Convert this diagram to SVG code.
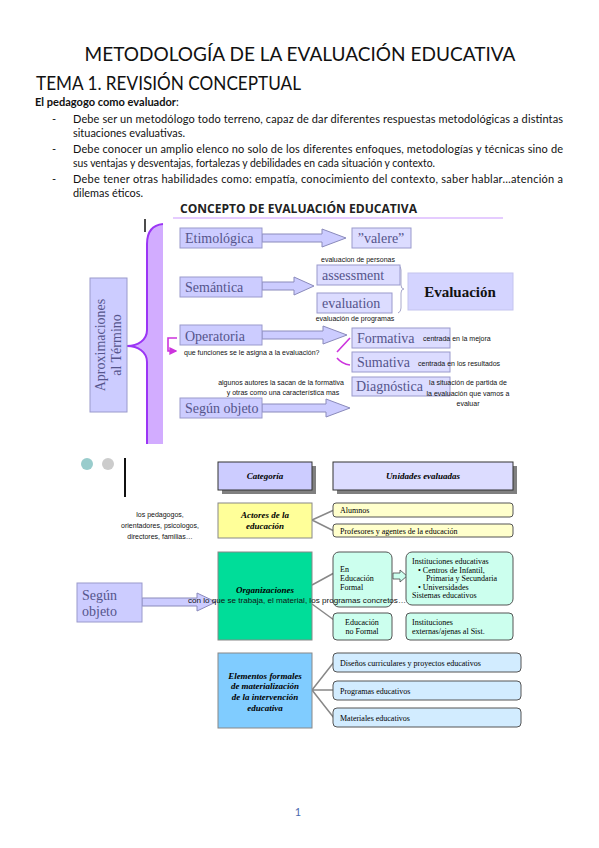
<svg xmlns="http://www.w3.org/2000/svg" width="599" height="848" viewBox="0 0 599 848">
<style>
.body{font-family:Lato,"Liberation Sans",sans-serif;font-size:11px;fill:#111}
.lv{fill:#ccccff;stroke:#9a9acc;stroke-width:1}
.lvl{fill:#dcdcff;stroke:#9a9acc;stroke-width:1}
.arr{fill:#ccccff;stroke:#8a8abb;stroke-width:1}
.lbl{font-family:"Liberation Serif",serif;font-size:14px;fill:#55558c}
.ann{font-family:"Liberation Sans",Arial,sans-serif;font-size:7px;fill:#111}
.bi{font-family:"Liberation Serif",serif;font-weight:bold;font-style:italic;font-size:9px;fill:#000}
.tn{font-family:"Liberation Serif",serif;font-size:8px;fill:#000}
.cn{fill:none;stroke:#888;stroke-width:1.5}
.mg{fill:none;stroke:#cc33dd;stroke-width:1.6}
.rb{stroke:#555;stroke-width:1}
</style>
<defs>
<marker id="mh" viewBox="0 0 6 6" refX="5" refY="3" markerWidth="5" markerHeight="5" orient="auto"><path d="M0,0 L6,3 L0,6 z" fill="#cc33dd"/></marker>
</defs>
<rect width="599" height="848" fill="#fff"/>

<!-- Header text -->
<g id="header">
<text x="300" y="61" text-anchor="middle" font-family="Lato,'Liberation Sans',sans-serif" font-size="20" fill="#111" textLength="431" lengthAdjust="spacingAndGlyphs">METODOLOGÍA DE LA EVALUACIÓN EDUCATIVA</text>
<text x="36" y="90" font-family="Lato,'Liberation Sans',sans-serif" font-size="20" fill="#111" textLength="265" lengthAdjust="spacingAndGlyphs">TEMA 1. REVISIÓN CONCEPTUAL</text>
<text x="35" y="106" class="body"><tspan font-weight="bold" textLength="141" lengthAdjust="spacingAndGlyphs">El pedagogo como evaluador</tspan>:</text>
<text x="52" y="123" class="body">-</text>
<text x="73" y="123" class="body" textLength="490" lengthAdjust="spacing">Debe ser un metodólogo todo terreno, capaz de dar diferentes respuestas metodológicas a distintas</text>
<text x="73" y="137" class="body" textLength="112" lengthAdjust="spacingAndGlyphs">situaciones evaluativas.</text>
<text x="52" y="153" class="body">-</text>
<text x="73" y="153" class="body" textLength="490" lengthAdjust="spacing">Debe conocer un amplio elenco no solo de los diferentes enfoques, metodologías y técnicas sino de</text>
<text x="73" y="167" class="body" textLength="362" lengthAdjust="spacingAndGlyphs">sus ventajas y desventajas, fortalezas y debilidades en cada situación y contexto.</text>
<text x="52" y="183" class="body">-</text>
<text x="73" y="183" class="body" textLength="490" lengthAdjust="spacing">Debe tener otras habilidades como: empatía, conocimiento del contexto, saber hablar…atención a</text>
<text x="73" y="197" class="body" textLength="70" lengthAdjust="spacingAndGlyphs">dilemas éticos.</text>
</g>

<!-- Concepto diagram -->
<g id="concepto-title">
<text x="180" y="213" font-family="'Open Sans','Liberation Sans',sans-serif" font-weight="bold" font-size="11.5" fill="#222" textLength="237" lengthAdjust="spacingAndGlyphs">CONCEPTO DE EVALUACIÓN EDUCATIVA</text>
<line x1="173" y1="218" x2="503" y2="218" stroke="#cc99ff" stroke-width="1.2"/>
</g>
<line x1="145" y1="219" x2="145" y2="232" stroke="#111" stroke-width="1.5"/>

<g id="brace">
<path d="M163,224 C152,225 147,232 147,244 L147,330 C147,340 138,346 127,346 C138,346 147,352 147,362 L147,444 L163,444 Z" fill="#d2acff"/>
<path d="M163,224 C152,225 147,232 147,244 L147,330 C147,340 138,346 127,346 C138,346 147,352 147,362 L147,444" fill="none" stroke="#9b35f5" stroke-width="2"/>
</g>

<g id="aproximaciones">
<rect x="90" y="278" width="37" height="134" class="lv"/>
<text transform="translate(105,345) rotate(-90)" text-anchor="middle" class="lbl" font-size="13.5" fill="#77709a">Aproximaciones</text>
<text transform="translate(121,345) rotate(-90)" text-anchor="middle" class="lbl" font-size="13.5" fill="#77709a">al Término</text>
</g>

<g id="connectors">
<path class="arr" d="M262,234 H322 V229 L346,238 L322,247 V242 H262 Z"/>
<path class="arr" d="M262,282 H294 V277 L314,286 L294,295 V290 H262 Z"/>
<path class="arr" d="M262,331 H323 V326 L347,335 L323,344 V339 H262 Z"/>
<path class="arr" d="M262,404 H326 V399 L350,408 L326,417 V412 H262 Z"/>
<path d="M398,265 Q401,266 401,270 L401,285 Q401,289 404,289 Q401,289 401,293 L401,308 Q401,312 398,313" fill="none" stroke="#a8a8cc" stroke-width="1"/>
<path class="mg" d="M177,338 H168 V351 H176" marker-end="url(#mh)"/>
<path class="mg" d="M350,338 L337,352"/>
<path class="mg" d="M337,358 Q342,364 350,365"/>
<!-- bottom diagram connectors -->
<path class="arr" d="M142,598 H197 V593 L216,602 L197,611 V606 H142 Z"/>
<path class="cn" d="M312,520 L334,510 M312,520 L334,531"/>
<path class="cn" d="M312,585 L334,573 M312,604 L334,620"/>
<path class="cn" d="M312,690 L334,662 M312,690 L334,690 M312,690 L334,718"/>
<path d="M393,573 H400 V570 L407,576 L400,582 V579 H393 Z" fill="#ccffee" stroke="#444" stroke-width="0.8"/>
</g>

<g id="etimologica">
<rect x="180" y="228" width="82" height="20" class="lv"/>
<text x="185" y="243" class="lbl">Etimológica</text>
</g>
<g id="semantica">
<rect x="180" y="277" width="82" height="20" class="lv"/>
<text x="185" y="292" class="lbl">Semántica</text>
</g>
<g id="operatoria">
<rect x="180" y="325" width="82" height="20" class="lv"/>
<text x="185" y="341" class="lbl" font-size="15">Operatoria</text>
</g>
<g id="segun-objeto-1">
<rect x="180" y="398" width="82" height="20" class="lv"/>
<text x="185" y="413" class="lbl" font-size="15">Según objeto</text>
</g>
<g id="valere">
<rect x="352" y="228" width="59" height="20" class="lvl"/>
<text x="381" y="243" text-anchor="middle" class="lbl" font-size="15">”valere”</text>
</g>
<g id="assessment">
<text x="358" y="262" text-anchor="middle" class="ann">evaluacion de personas</text>
<rect x="317" y="265" width="83" height="20" class="lvl"/>
<text x="322" y="280" class="lbl" font-size="15">assessment</text>
</g>
<g id="evaluation">
<rect x="317" y="293" width="75" height="20" class="lvl"/>
<text x="322" y="308" class="lbl" font-size="15">evaluation</text>
<text x="355" y="321" text-anchor="middle" class="ann">evaluación de programas</text>
</g>
<g id="evaluacion">
<rect x="408" y="273" width="105" height="37" fill="#d4d4ff" stroke="#c4c4ee" stroke-width="1"/>
<text x="460" y="297" text-anchor="middle" font-family="'Liberation Serif',serif" font-weight="bold" font-size="15" fill="#111">Evaluación</text>
</g>
<g id="formativa">
<rect x="352" y="328" width="98" height="20" class="lvl"/>
<text x="357" y="343" class="lbl" font-size="15" fill="#6464a0">Formativa</text>
<text x="423" y="341" class="ann">centrada en la mejora</text>
</g>
<g id="sumativa">
<rect x="352" y="352" width="98" height="20" class="lvl"/>
<text x="357" y="367" class="lbl" font-size="15" fill="#6464a0">Sumativa</text>
<text x="418" y="366" class="ann">centrada en los resultados</text>
</g>
<g id="diagnostica">
<rect x="352" y="377" width="98" height="19" class="lvl"/>
<text x="356" y="391" class="lbl" font-size="15" fill="#6464a0">Diagnóstica</text>
<text x="468" y="385" text-anchor="middle" class="ann">la situación de partida de</text>
<text x="468" y="396" text-anchor="middle" class="ann">la evaluación que vamos a</text>
<text x="468" y="406" text-anchor="middle" class="ann">evaluar</text>
</g>
<g id="notes">
<text x="184" y="355" class="ann">que funciones se le asigna a la evaluación?</text>
<text x="281" y="385" text-anchor="middle" class="ann">algunos autores la sacan de la formativa</text>
<text x="283" y="395" text-anchor="middle" class="ann">y otras como una característica mas</text>
</g>

<!-- Bottom diagram -->
<circle cx="87" cy="464" r="6" fill="#99cccc"/>
<circle cx="108" cy="464" r="6" fill="#cccccc"/>
<line x1="125" y1="458" x2="125" y2="497" stroke="#111" stroke-width="2"/>

<g id="categoria">
<rect x="222" y="466" width="94" height="28" fill="#808080"/>
<rect x="218" y="462" width="94" height="28" fill="#ccccff" stroke="#333" stroke-width="1"/>
<text x="265" y="479" text-anchor="middle" class="bi">Categoría</text>
</g>
<g id="unidades">
<rect x="337" y="466" width="180" height="28" fill="#808080"/>
<rect x="333" y="462" width="180" height="28" fill="#dcdcff" stroke="#333" stroke-width="1"/>
<text x="423" y="479" text-anchor="middle" class="bi">Unidades evaluadas</text>
</g>
<g id="actores">
<rect x="218" y="503" width="94" height="35" fill="#ffff99" stroke="#888" stroke-width="1"/>
<text x="265" y="518" text-anchor="middle" class="bi">Actores de la</text>
<text x="265" y="529" text-anchor="middle" class="bi">educación</text>
</g>
<g id="alumnos">
<rect x="333" y="503" width="180" height="14" rx="3" fill="#ffffcc" class="rb"/>
<text x="340" y="513" class="tn">Alumnos</text>
</g>
<g id="profesores">
<rect x="333" y="524" width="180" height="13" rx="3" fill="#ffffcc" class="rb"/>
<text x="340" y="534" class="tn">Profesores y agentes de la educación</text>
</g>
<g id="pedagogos-note">
<text x="160" y="517" text-anchor="middle" class="ann" font-size="8">los pedagogos,</text>
<text x="160" y="528" text-anchor="middle" class="ann" font-size="8">orientadores, psicologos,</text>
<text x="160" y="539" text-anchor="middle" class="ann" font-size="8">directores, familias…</text>
</g>
<g id="segun-objeto-2">
<rect x="77" y="583" width="65" height="39" class="lv"/>
<text x="82" y="600" class="lbl" font-size="15">Según</text>
<text x="82" y="616" class="lbl" font-size="15">objeto</text>
</g>
<g id="organizaciones">
<rect x="218" y="552" width="94" height="88" fill="#00dd99" stroke="#888" stroke-width="1"/>
<text x="265" y="593" text-anchor="middle" class="bi">Organizaciones</text>
</g>
<g id="formal">
<rect x="333" y="552" width="59" height="55" rx="6" fill="#ccffee" class="rb"/>
<text x="340" y="572" class="tn">En</text>
<text x="340" y="581" class="tn">Educación</text>
<text x="340" y="590" class="tn">Formal</text>
</g>
<g id="instituciones">
<rect x="406" y="552" width="107" height="53" rx="6" fill="#ccffee" class="rb"/>
<text x="412" y="564" class="tn">Instituciones educativas</text>
<text x="418" y="573" class="tn">•  Centros de Infantil,</text>
<text x="426" y="581" class="tn">Primaria y Secundaria</text>
<text x="418" y="590" class="tn">•  Universidades</text>
<text x="412" y="598" class="tn">Sistemas educativos</text>
</g>
<g id="no-formal">
<rect x="333" y="613" width="59" height="27" rx="4" fill="#ccffee" class="rb"/>
<text x="362" y="625" text-anchor="middle" class="tn">Educación</text>
<text x="362" y="634" text-anchor="middle" class="tn">no Formal</text>
</g>
<g id="externas">
<rect x="406" y="613" width="107" height="27" rx="4" fill="#ccffee" class="rb"/>
<text x="412" y="625" class="tn">Instituciones</text>
<text x="412" y="634" class="tn">externas/ajenas al Sist.</text>
</g>
<text x="188" y="603" class="ann" font-size="8" textLength="218" lengthAdjust="spacingAndGlyphs">con lo que se trabaja, el material, los programas concretos…</text>
<g id="elementos">
<rect x="218" y="653" width="94" height="75" fill="#80ccff" stroke="#888" stroke-width="1"/>
<text x="265" y="679" text-anchor="middle" class="bi">Elementos formales</text>
<text x="265" y="689" text-anchor="middle" class="bi">de materialización</text>
<text x="265" y="700" text-anchor="middle" class="bi">de la intervención</text>
<text x="265" y="711" text-anchor="middle" class="bi">educativa</text>
</g>
<g id="disenos">
<rect x="333" y="653" width="188" height="19" rx="4" fill="#d2ecff" class="rb"/>
<text x="340" y="666" class="tn">Diseños curriculares y proyectos educativos</text>
</g>
<g id="programas">
<rect x="333" y="681" width="188" height="19" rx="4" fill="#d2ecff" class="rb"/>
<text x="340" y="694" class="tn">Programas educativos</text>
</g>
<g id="materiales">
<rect x="333" y="708" width="188" height="19" rx="4" fill="#d2ecff" class="rb"/>
<text x="340" y="721" class="tn">Materiales educativos</text>
</g>
<text x="298" y="816" text-anchor="middle" font-family="Lato,'Liberation Sans',sans-serif" font-size="11" fill="#4a6ab0">1</text>
</svg>
